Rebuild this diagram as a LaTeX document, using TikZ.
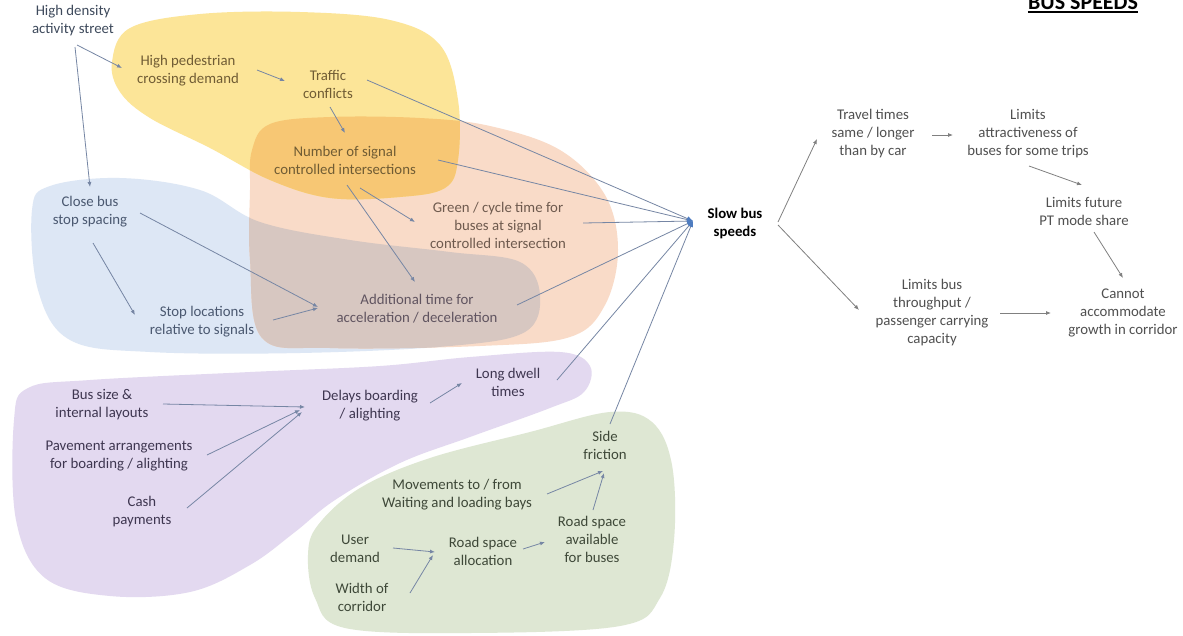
\documentclass[tikz,border=0pt]{standalone}
\usepackage{fontspec}
\setmainfont{Carlito}
\usetikzlibrary{arrows.meta}

% region fills
\definecolor{blobyellow}{RGB}{252,229,152}
\definecolor{blobpeach}{RGB}{249,219,200}
\definecolor{blobblue}{RGB}{221,231,245}
\definecolor{bloborange}{RGB}{247,199,116}
\definecolor{blobgrey}{RGB}{215,199,193}
\definecolor{blobpurple}{RGB}{227,217,240}
\definecolor{blobgreen}{RGB}{222,231,211}
% text colours
\definecolor{txtslate}{RGB}{62,74,92}
\definecolor{txtolive}{RGB}{112,92,52}
\definecolor{txtbrown}{RGB}{110,90,78}
\definecolor{txtmauve}{RGB}{96,84,96}
\definecolor{txtblue}{RGB}{74,88,112}
\definecolor{txtpurple}{RGB}{62,54,80}
\definecolor{txtgreen}{RGB}{62,72,56}
\definecolor{txtgrey}{RGB}{80,80,80}
% connectors
\definecolor{linkblue}{RGB}{118,134,164}
\definecolor{tipblue}{RGB}{78,124,192}
\definecolor{linkgrey}{RGB}{128,128,128}

\tikzset{
  lbl/.style={align=center, inner sep=0pt, font=\fontsize{14.8}{18}\selectfont},
  link/.style={draw=linkblue, line width=0.8pt, -{Latex[length=5pt,width=4pt]}},
  inlink/.style={draw=linkblue, line width=0.8pt, -{Latex[length=6pt,width=5pt,color=tipblue]}},
  outlink/.style={draw=linkgrey, line width=0.8pt, -{Latex[length=5pt,width=4pt]}},
  yellowblob/.style={insert path={plot[smooth cycle,tension=0.6] coordinates {
    (112,62) (130,28) (200,14) (300,12) (390,20) (440,45) (458,100) (458,160)
    (445,188) (400,197) (330,198) (270,180) (210,148) (150,118) (120,92)}}},
  peachblob/.style={insert path={plot[smooth cycle,tension=0.6] coordinates {
    (252,150) (270,124) (330,117) (420,118) (490,126) (560,150) (605,195)
    (618,250) (605,305) (570,337) (480,346) (330,348) (262,338) (250,260) (250,190)}}},
  blueblob/.style={insert path={plot[smooth cycle,tension=0.6] coordinates {
    (32,210) (50,186) (120,178) (200,190) (260,222) (350,240) (450,252)
    (520,262) (540,295) (525,332) (450,346) (300,353) (150,352) (70,340) (38,290)}}},
  purpleblob/.style={insert path={plot[smooth cycle,tension=0.6] coordinates {
    (14,420) (28,388) (90,380) (250,372) (380,366) (470,357) (560,352) (590,366)
    (584,392) (550,408) (470,437) (400,463) (335,500) (295,532) (250,565)
    (190,592) (110,596) (45,578) (16,520)}}},
  greenblob/.style={insert path={plot[smooth cycle,tension=0.6] coordinates {
    (318,525) (360,488) (430,458) (530,432) (610,412) (652,422) (672,465)
    (674,540) (660,598) (620,626) (470,633) (345,628) (315,598) (308,555)}}},
}

\begin{document}
\begin{tikzpicture}[x=1pt,y=-1pt]
\useasboundingbox (0,0) rectangle (1183,635);
\clip (0,0) rectangle (1183,635);
\fill[white] (0,0) rectangle (1183,635);

% shaded regions
\fill[blobpurple, purpleblob];
\fill[blobgreen, greenblob];
\fill[blobblue, blueblob];
\fill[blobpeach, peachblob];
\fill[blobyellow, yellowblob];
\begin{scope}
  \path[clip, peachblob];
  \fill[bloborange, yellowblob];
  \fill[blobgrey, blueblob];
\end{scope}

% title
\node[anchor=base, inner sep=0pt, font=\fontsize{22}{26}\selectfont\bfseries]
  (title) at (1083,9.5) {BUS SPEEDS};
\draw[line width=1.4pt] ([yshift=-2.6pt]title.base west) -- ([yshift=-2.6pt]title.base east);

% causes
\node[lbl, text=txtslate]  (hd) at (73,21)   {High density\\activity street};
\node[lbl, text=txtolive]  (hp) at (188,71)  {High pedestrian\\crossing demand};
\node[lbl, text=txtolive]  (tc) at (328,84)  {Traffic\\conflicts};
\node[lbl, text=txtolive]  (ns) at (345,160) {Number of signal\\controlled intersections};
\node[lbl, text=txtbrown]  (gc) at (498,225) {Green / cycle time for\\buses at signal\\controlled intersection};
\node[lbl, text=txtblue]   (cb) at (90,212)  {Close bus\\stop spacing};
\node[lbl, text=txtblue]   (sl) at (202,322) {Stop locations\\relative to signals};
\node[lbl, text=txtmauve]  (ad) at (417,309) {Additional time for\\acceleration / deceleration};
\node[lbl, text=txtpurple] (bs) at (102,405) {Bus size \&\\internal layouts};
\node[lbl, text=txtpurple] (pa) at (119,456) {Pavement arrangements\\for boarding / alighting};
\node[lbl, text=txtpurple] (cp) at (142,512) {Cash\\payments};
\node[lbl, text=txtpurple] (db) at (370,406) {Delays boarding\\/ alighting};
\node[lbl, text=txtpurple] (ld) at (508,382) {Long dwell\\times};
\node[lbl, text=txtgreen]  (mv) at (457,495) {Movements to / from\\Waiting and loading bays};
\node[lbl, text=txtgreen]  (ud) at (355,549) {User\\demand};
\node[lbl, text=txtgreen]  (wc) at (362,597) {Width of\\corridor};
\node[lbl, text=txtgreen]  (ra) at (483,551) {Road space\\allocation};
\node[lbl, text=txtgreen]  (rb) at (592,539) {Road space\\available\\for buses};
\node[lbl, text=txtgreen]  (sf) at (605,445) {Side\\friction};

% central problem and consequences
\node[lbl, text=black, font=\fontsize{14.8}{18}\selectfont\bfseries] (slow) at (735,223) {Slow bus\\speeds};
\node[lbl, text=txtgrey] (tt) at (873,134)  {Travel times\\same / longer\\than by car};
\node[lbl, text=txtgrey] (la) at (1028,134) {Limits\\attractiveness of\\buses for some trips};
\node[lbl, text=txtgrey] (lf) at (1084,211) {Limits future\\PT mode share};
\node[lbl, text=txtgrey] (lb) at (932,313)  {Limits bus\\throughput /\\passenger carrying\\capacity};
\node[lbl, text=txtgrey] (ca) at (1123,313) {Cannot\\accommodate\\growth in corridor};

% links between causes
\draw[link] ([shift={(4,24)}]hd.center)  -- ([shift={(-66,-3)}]hp.center);
\draw[link] ([shift={(2,26)}]hd.center)  -- ([shift={(0,-25)}]cb.center);
\draw[link] ([shift={(69,-1)}]hp.center) -- ([shift={(-43,-3)}]tc.center);
\draw[link] ([shift={(2,23)}]tc.center)  -- ([shift={(0,-27)}]ns.center);
\draw[link] ([shift={(15,28)}]ns.center) -- ([shift={(-83,-3)}]gc.center);
\draw[link] ([shift={(2,25)}]ns.center)  -- ([shift={(-2,-27)}]ad.center);
\draw[link] ([shift={(50,1)}]cb.center)  -- ([shift={(-99,-2)}]ad.center);
\draw[link] ([shift={(3,31)}]cb.center)  -- ([shift={(-67,-7)}]sl.center);
\draw[link] ([shift={(71,-2)}]sl.center) -- ([shift={(-99,-1)}]ad.center);
\draw[link] ([shift={(61,-1)}]bs.center) -- ([shift={(-65,1)}]db.center);
\draw[link] ([shift={(88,-1)}]pa.center) -- ([shift={(-70,4)}]db.center);
\draw[link] ([shift={(45,-4)}]cp.center) -- ([shift={(-68,6)}]db.center);
\draw[link] ([shift={(60,-3)}]db.center) -- ([shift={(-46,1)}]ld.center);
\draw[link] ([shift={(90,-1)}]mv.center) -- ([shift={(-2,26)}]sf.center);
\draw[link] ([shift={(1,-29)}]rb.center) -- ([shift={(-1,28)}]sf.center);
\draw[link] ([shift={(38,-1)}]ud.center) -- ([shift={(-48,1)}]ra.center);
\draw[link] ([shift={(48,-4)}]wc.center) -- ([shift={(-50,4)}]ra.center);
\draw[link] ([shift={(40,-2)}]ra.center) -- ([shift={(-47,3)}]rb.center);

% links into the central problem
\draw[inlink] ([shift={(39,-4)}]tc.center)  -- ([shift={(-42,-2)}]slow.center);
\draw[inlink] ([shift={(93,0)}]ns.center)   -- ([shift={(-42,-2)}]slow.center);
\draw[inlink] ([shift={(85,-2)}]gc.center)  -- ([shift={(-42,-2)}]slow.center);
\draw[inlink] ([shift={(100,-4)}]ad.center) -- ([shift={(-42,-2)}]slow.center);
\draw[inlink] ([shift={(49,-2)}]ld.center)  -- ([shift={(-42,-2)}]slow.center);
\draw[inlink] ([shift={(5,-21)}]sf.center)  -- ([shift={(-42,-2)}]slow.center);

% consequences
\draw[outlink] ([shift={(43,-1)}]slow.center) -- ([shift={(-56,5)}]tt.center);
\draw[outlink] ([shift={(43,2)}]slow.center)  -- ([shift={(-73,-3)}]lb.center);
\draw[outlink] ([shift={(59,1)}]tt.center)    -- ([shift={(-75,1)}]la.center);
\draw[outlink] ([shift={(1,32)}]la.center)    -- ([shift={(-2,-26)}]lf.center);
\draw[outlink] ([shift={(10,21)}]lf.center)   -- ([shift={(0,-35)}]ca.center);
\draw[outlink] ([shift={(68,0)}]lb.center)    -- ([shift={(-72,0)}]ca.center);
\end{tikzpicture}
\end{document}
